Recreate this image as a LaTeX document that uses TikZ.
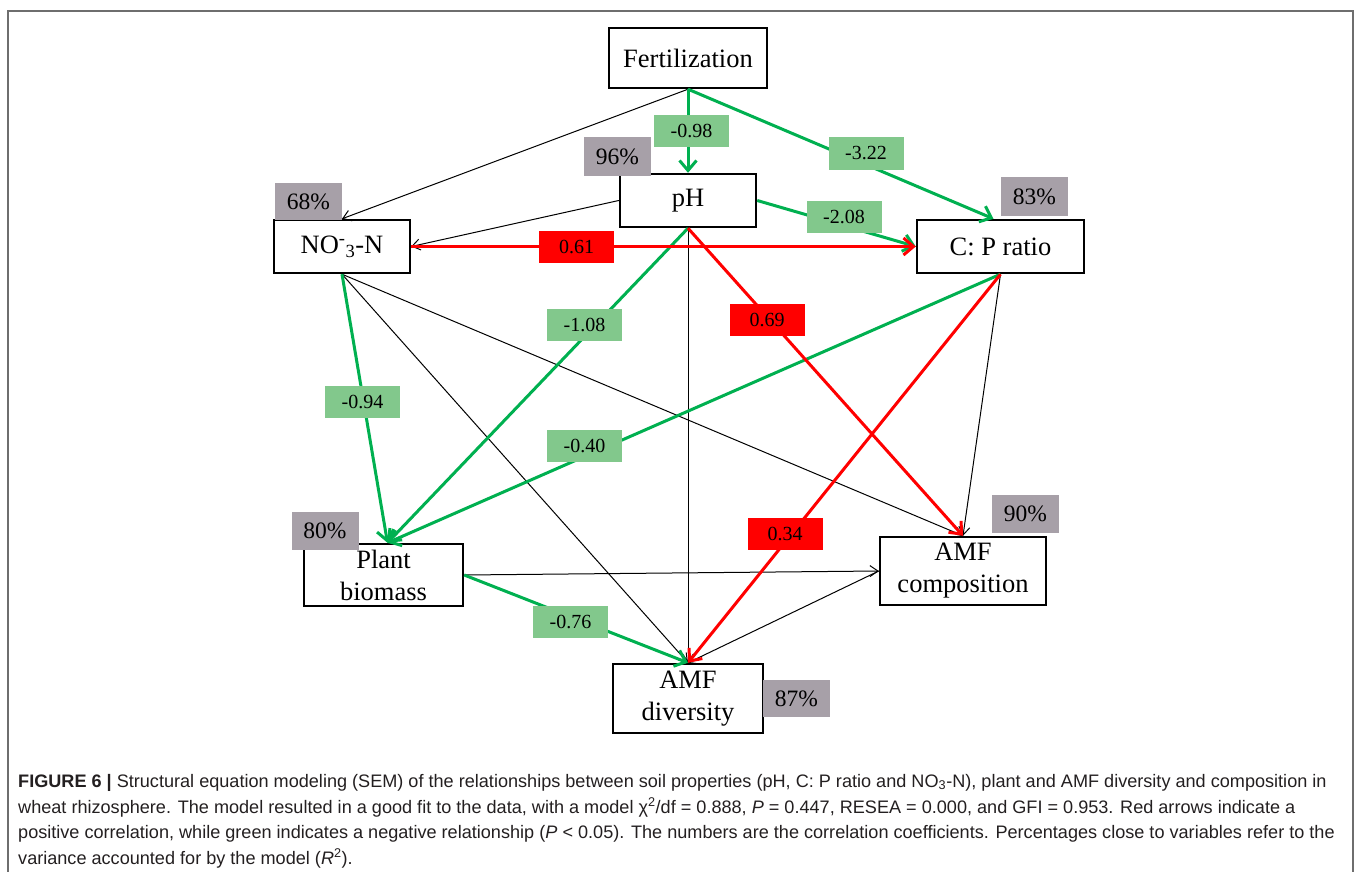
\documentclass[tikz,border=0pt]{standalone}
\usepackage{fontspec}
\setmainfont{Liberation Serif}
\newfontfamily\capfont{Liberation Sans}
\usetikzlibrary{arrows.meta,calc}
\definecolor{grn}{RGB}{0,176,80}
\definecolor{lgrn}{RGB}{130,200,140}
\definecolor{pgray}{RGB}{167,160,168}
\definecolor{rd}{RGB}{255,0,0}
\definecolor{framegray}{RGB}{110,110,110}
\definecolor{captext}{RGB}{35,31,32}
\begin{document}
\begin{tikzpicture}[x=1pt,y=-1pt,
  var/.style={draw=black, line width=2.4pt, fill=white, inner sep=0pt, align=center,
    font=\fontsize{26.5}{32}\selectfont},
  pct/.style={fill=pgray, inner sep=0pt, minimum width=67pt, minimum height=38pt,
    font=\fontsize{23.5}{28}\selectfont},
  glab/.style={fill=lgrn, inner sep=0pt, minimum width=75pt, minimum height=32pt,
    font=\fontsize{20}{24}\selectfont},
  rlab/.style={fill=rd, inner sep=0pt, minimum width=75pt, minimum height=32pt,
    font=\fontsize{20}{24}\selectfont},
  negarr/.style={draw=grn, line width=3pt, -{Straight Barb[length=10pt,width=17pt,line width=3pt]}},
  posarr/.style={draw=rd, line width=3pt, -{Straight Barb[length=10pt,width=17pt,line width=3pt]}},
  blk/.style={draw=black, line width=1pt, -{Straight Barb[length=8pt,width=11pt,line width=1pt]}},
  capline/.style={anchor=base west, inner sep=0pt, text=captext, font=\capfont\fontsize{18.1}{22}\selectfont}
]
\useasboundingbox (0,0) rectangle (1357,872);
\clip (0,0) rectangle (1357,872);
\draw[framegray, line width=2pt] (8,900) -- (8,11) -- (1353,11) -- (1353,900);

% variables
\node[var, minimum width=158pt, minimum height=60pt] (fert) at (688,58) {Fertilization};
\node[var, minimum width=136pt, minimum height=53pt] (ph) at (688,200.5) {pH};
\node[var, minimum width=136pt, minimum height=53pt] (no3) at (342,246.5) {NO\textsuperscript{-}\textsubscript{3}-N};
\node[var, minimum width=167pt, minimum height=53pt] (cp) at (1000.5,246.5) {C: P ratio};
\node[var, minimum width=159pt, minimum height=62pt] (pb) at (383.5,575) {Plant\\biomass};
\node[var, minimum width=166pt, minimum height=68pt] (comp) at (963,571) {AMF\\composition};
\node[var, minimum width=150pt, minimum height=69pt] (div) at (688,698.5) {AMF\\diversity};

% connector end points
\coordinate (cpN) at ($(cp.north)+(-7,0)$);
\coordinate (pbN) at ($(pb.north)+(4,0)$);

% thin black paths
\draw[blk] (fert.south) -- (no3.north);
\draw[blk] (ph.west) -- (no3.east);
\draw[blk] (ph.south) -- (div.north);
\draw[blk] (no3.south) -- (div.north);
\draw[blk] (no3.south) -- (comp.north);
\draw[blk] (cp.south) -- (comp.north);
\draw[blk] (pb.east) -- (comp.west);
\draw[blk] (comp.west) -- (div.north);

% negative (green)
\draw[negarr] (fert.south) -- (ph.north);
\draw[negarr] (fert.south) -- (cpN);
\draw[negarr] (ph.east) -- (cp.west);
\draw[negarr] (ph.south) -- (pbN);
\draw[negarr] (no3.south) -- (pbN);
\draw[negarr] (cp.south) -- (pbN);
\draw[negarr] (pb.east) -- (div.north);

% positive (red)
\draw[posarr] (no3.east) -- (cp.west);
\draw[posarr] (ph.south) -- (comp.north);
\draw[posarr] (cp.south) -- (div.north);

% coefficient labels
\node[glab] (l098) at (691.5,131) {-0.98};
\node[glab] (l322) at (866,153.5) {-3.22};
\node[glab] (l208) at (844,217) {-2.08};
\node[glab] (l108) at (584.5,324.5) {-1.08};
\node[glab] (l094) at (362.5,402) {-0.94};
\node[glab] (l040) at (584.5,446) {-0.40};
\node[glab] (l076) at (570.5,622) {-0.76};
\node[rlab] (l061) at (576.5,247) {0.61};
\node[rlab] (l069) at (767,320) {0.69};
\node[rlab] (l034) at (785,534) {0.34};

% R2 boxes
\node[pct, minimum height=39pt] (p96) at (617.5,156.5) {96\%};
\node[pct, minimum height=37pt] (p68) at (308.5,201.5) {68\%};
\node[pct, minimum height=39pt] (p83) at (1034.5,196.5) {83\%};
\node[pct] (p80) at (325,531) {80\%};
\node[pct] (p90) at (1025.5,514) {90\%};
\node[pct, minimum height=37pt] (p87) at (796.5,698.5) {87\%};

% caption
\node[capline] (c1) at (18,787) {\textbf{FIGURE 6 |} Structural equation modeling (SEM) of the relationships between soil properties (pH, C: P ratio and NO\textsubscript{3}-N), plant and AMF diversity and composition in};
\node[capline] (c2) at (18,813) {wheat rhizosphere. The model resulted in a good fit to the data, with a model χ\textsuperscript{2}/df = 0.888, \textit{P} = 0.447, RESEA = 0.000, and GFI = 0.953. Red arrows indicate a};
\node[capline] (c3) at (18,838.5) {positive correlation, while green indicates a negative relationship (\textit{P} < 0.05). The numbers are the correlation coefficients. Percentages close to variables refer to the};
\node[capline] (c4) at (18,864) {variance accounted for by the model (\textit{R}\textsuperscript{2}).};
\end{tikzpicture}
\end{document}
